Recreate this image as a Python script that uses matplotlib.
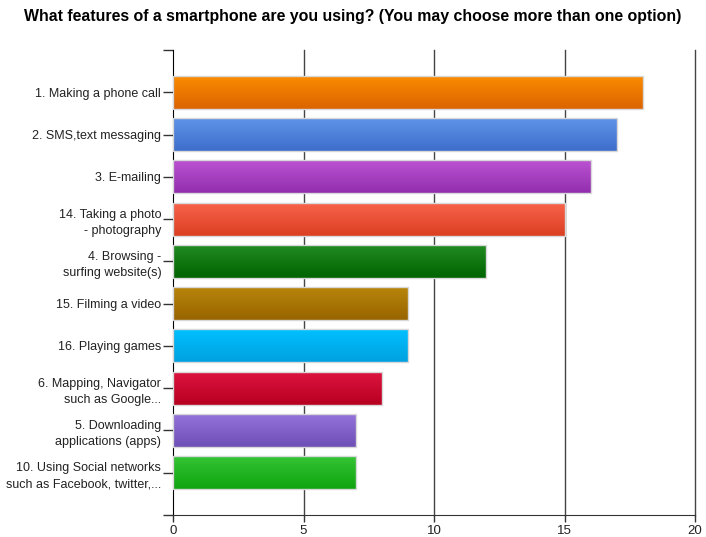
import numpy as np
import matplotlib
matplotlib.use('Agg')
from matplotlib import pyplot as plt
from matplotlib.colors import LinearSegmentedColormap

# data, top to bottom
labels = ['1. Making a phone call',
          '2. SMS,text messaging',
          '3. E-mailing',
          '14. Taking a photo\n- photography',
          '4. Browsing -\nsurfing website(s)',
          '15. Filming a video',
          '16. Playing games',
          '6. Mapping, Navigator\nsuch as Google...',
          '5. Downloading\napplications (apps)',
          '10. Using Social networks\nsuch as Facebook, twitter,...']
counts = [18, 17, 16, 15, 12, 9, 9, 8, 7, 7]

# (top colour, bottom colour) per bar
colors_top = ['#fa8c00', '#5f93e8', '#bb52d2', '#f7634a', '#228b22',
              '#b8860b', '#00c0ff', '#dc1440', '#9474da', '#34c434']
colors_bot = ['#dc6400', '#3e6ecb', '#922fae', '#dc3f22', '#006400',
              '#986400', '#00a0e0', '#b80020', '#6e4fb6', '#10a410']

fig = plt.figure(figsize=(7.06, 5.37), dpi=100)
ax = fig.add_axes([173/706, 1 - 515/537, 522/706, 465/537])

y = np.arange(len(labels))
h = 0.78
bars = ax.barh(y, counts, height=h, color='none', edgecolor='#d8d8d8',
               linewidth=1, zorder=3)

grad = np.linspace(0, 1, 64).reshape(-1, 1)
for i, b in enumerate(bars):
    cm = LinearSegmentedColormap.from_list('g%d' % i, [colors_top[i], colors_bot[i]])
    x0, y0 = b.get_x(), b.get_y()
    ax.imshow(grad, cmap=cm, aspect='auto', interpolation='bilinear',
              extent=(x0, x0 + b.get_width(), y0 + b.get_height(), y0), zorder=2)

ax.set_xlim(0, 20)
ax.set_ylim(10, -1)
ax.set_xticks([0, 5, 10, 15, 20])
ax.set_yticks(y)
ax.set_yticklabels(labels, fontsize=9, color='#222222', family='Liberation Sans',
                   multialignment='right', linespacing=1.45)
ax.set_yticks([-1, 10], minor=True)
ax.tick_params(axis='y', which='both', length=7, width=1, color='#333333', pad=1.5)
ax.tick_params(axis='x', length=5, width=1, color='#333333', labelsize=9.5,
               labelcolor='#222222', pad=2)
for t in ax.get_xticklabels():
    t.set_family('Liberation Sans')

# vertical grid lines, drawn behind the bars
for xv in [5, 10, 15, 20]:
    ax.axvline(xv, color='#444444', linewidth=1, zorder=0, clip_on=False)
ax.spines['top'].set_visible(False)
ax.spines['right'].set_visible(False)
ax.spines['left'].set_color('black')
ax.spines['bottom'].set_color('#333333')

fig.text(0.5, 1 - 16/537, 'What features of a smartphone are you using? (You may choose more than one option)',
         ha='center', va='center', fontsize=11.4, fontweight='bold', family='Liberation Sans')

plt.savefig('out.png', dpi=100)
plt.close()
